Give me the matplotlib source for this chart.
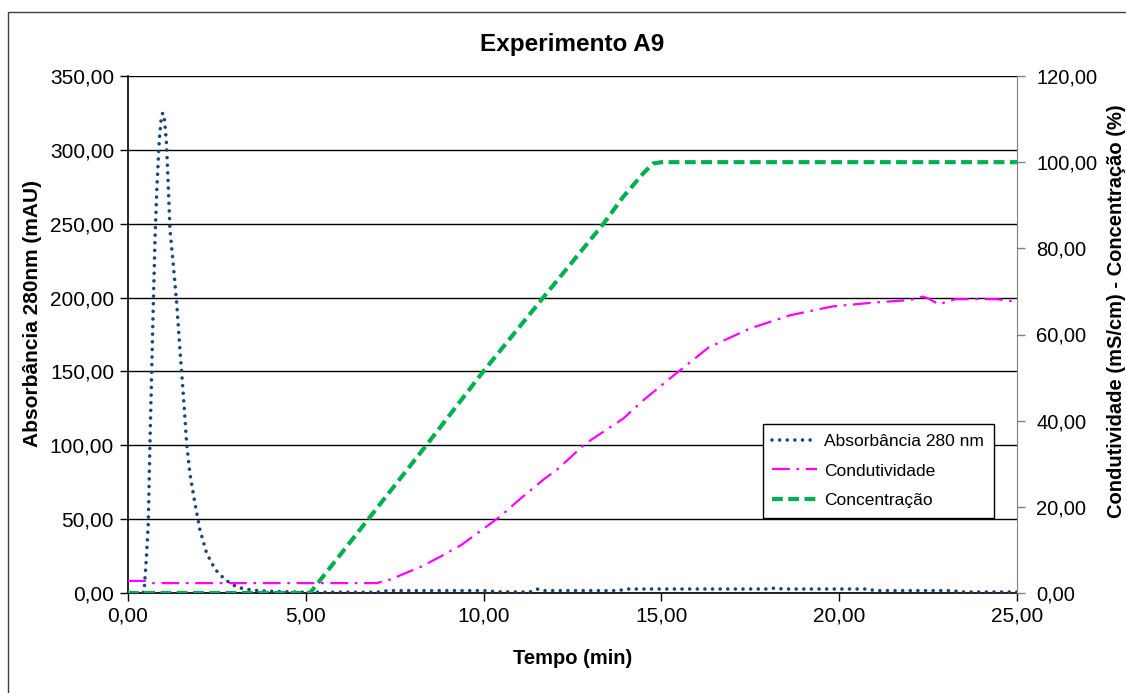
import matplotlib.pyplot as plt
from matplotlib.patches import Rectangle
from matplotlib.ticker import FuncFormatter, MultipleLocator

plt.rcParams['font.family'] = ['Liberation Sans', 'DejaVu Sans']

# Absorbância 280 nm (mAU), eixo esquerdo
t_abs = [0, 0.3, 0.45, 0.52, 0.57, 0.62, 0.71, 0.76, 0.81, 0.88, 0.93, 0.975,
         1.03, 1.08, 1.13, 1.18, 1.27, 1.37, 1.46, 1.56, 1.65, 1.74, 1.88, 2.02,
         2.21, 2.45, 2.73, 3.06, 3.34, 3.7, 4.2, 5.0, 6.0, 7.0, 7.3, 8.0, 9.0,
         10.0, 10.5, 11.3, 11.5, 11.7, 12.5, 13.8, 14.0, 16.0, 18.0, 18.2, 18.4,
         20.0, 20.8, 21.0, 22.0, 23.2, 23.4, 25.0]
absorb = [0, 0, 0.5, 25, 47, 104, 194, 240, 273, 307, 320, 325,
          320, 305, 277, 246, 223, 196, 165, 133, 101, 81, 61, 43,
          27, 16, 9, 4, 2.5, 1.5, 1.0, 0.5, 0.5, 0.5, 1.6, 1.6, 1.6,
          1.6, 0.7, 0.7, 2.7, 1.6, 1.6, 1.6, 2.7, 2.7, 2.7, 3.4, 2.7,
          2.7, 2.7, 1.6, 1.6, 1.6, 0.7, 0.7]

# Condutividade (mS/cm), eixo direito
t_cond = [0, 0.5, 0.7, 2, 4, 5, 6, 7.0, 7.4, 7.8, 8.24, 8.8, 9.4, 10.44, 11.12,
          11.71, 12.06, 12.87, 13.93, 14.5, 15.18, 16.33, 17.49, 18.64, 19.80,
          20.95, 22.0, 22.34, 22.5, 22.8, 23.27, 24.42, 25]
cond = [2.8, 2.8, 2.3, 2.3, 2.3, 2.3, 2.3, 2.3, 3.2, 4.6, 6.1, 8.5, 11.3, 17.6, 22.5,
        26.5, 28.6, 34.7, 40.5, 44.8, 49.4, 57.0, 61.4, 64.5, 66.5,
        67.4, 68.0, 68.8, 68.4, 67.0, 68.2, 68.2, 67.6]

# Concentração (%), eixo direito
t_conc = [0, 5.12, 6.81, 8.40, 9.99, 11.68, 13.37, 13.93, 14.5, 14.77, 15.0, 25]
conc = [0, 0, 17.7, 34.4, 51.4, 68.6, 85.7, 92, 97.5, 99.7, 100, 100]


def fmt_br(v, pos):
    return f"{v:.2f}".replace('.', ',')


fig = plt.figure(figsize=(11.26, 6.93), dpi=100)
ax = fig.add_axes([128 / 1126, 100 / 693, 889 / 1126, 517 / 693])
ax2 = ax.twinx()

l_abs, = ax.plot(t_abs, absorb, color='#1f4478', lw=2.6, linestyle=(0, (0.01, 2.1)),
                 dash_capstyle='round', label='Absorbância 280 nm', zorder=3)
l_cond, = ax2.plot(t_cond, cond, color='#ff00ff', lw=1.6, linestyle=(0, (8, 3, 1.2, 3)),
                   label='Condutividade')
l_conc, = ax2.plot(t_conc, conc, color='#00b050', lw=3.0, linestyle=(0, (2.6, 1.3)),
                   label='Concentração')

ax.set_xlim(0, 25)
ax.set_ylim(0, 350)
ax2.set_ylim(0, 120)
ax.xaxis.set_major_locator(MultipleLocator(5))
ax.yaxis.set_major_locator(MultipleLocator(50))
ax2.yaxis.set_major_locator(MultipleLocator(20))
for a in (ax.xaxis, ax.yaxis, ax2.yaxis):
    a.set_major_formatter(FuncFormatter(fmt_br))

ax.yaxis.grid(True, color='black', lw=1.0)
ax.set_axisbelow(True)
ax.tick_params(axis='both', direction='out', length=6, width=1, labelsize=15, pad=4)
ax2.tick_params(axis='y', direction='out', length=6, width=1, color='#808080', labelsize=14.5, pad=8)
for s in ('top', 'right'):
    ax.spines[s].set_visible(False)
ax2.spines['top'].set_visible(False)
ax2.spines['left'].set_visible(False)
ax2.spines['bottom'].set_visible(False)
ax2.spines['right'].set_color('#808080')
ax.spines['left'].set_linewidth(1.2)
ax.spines['bottom'].set_linewidth(1.2)

ax.set_xlabel('Tempo (min)', fontsize=14.5, fontweight='bold')
ax.xaxis.set_label_coords(0.5, -0.108)
ax.set_ylabel('Absorbância 280nm (mAU)', fontsize=15, fontweight='bold')
ax.yaxis.set_label_coords(-0.097, 0.54)
ax2.set_ylabel('Condutividade (mS/cm) - Concentração (%)', fontsize=14.5, fontweight='bold')
ax2.yaxis.set_label_coords(1.101, 0.545)

fig.text(0.5085, 1 - 44 / 693, 'Experimento A9', fontsize=17.5, fontweight='bold',
         ha='center', va='center')

leg = ax2.legend(handles=[l_abs, l_cond, l_conc], loc='upper left',
                 bbox_to_anchor=(0.714, 0.327), fontsize=12.5, frameon=True,
                 fancybox=False, edgecolor='black', framealpha=1,
                 handlelength=2.6, handletextpad=0.4, labelspacing=0.85,
                 borderpad=0.55, borderaxespad=0)
leg.get_frame().set_linewidth(1.0)

fig.patches.append(Rectangle((8 / 1126, -0.05), 1.1, 1.05 - 12 / 693,
                             transform=fig.transFigure, fill=False,
                             edgecolor='#404040', lw=1.0))

fig.savefig('out.png', dpi=100)
